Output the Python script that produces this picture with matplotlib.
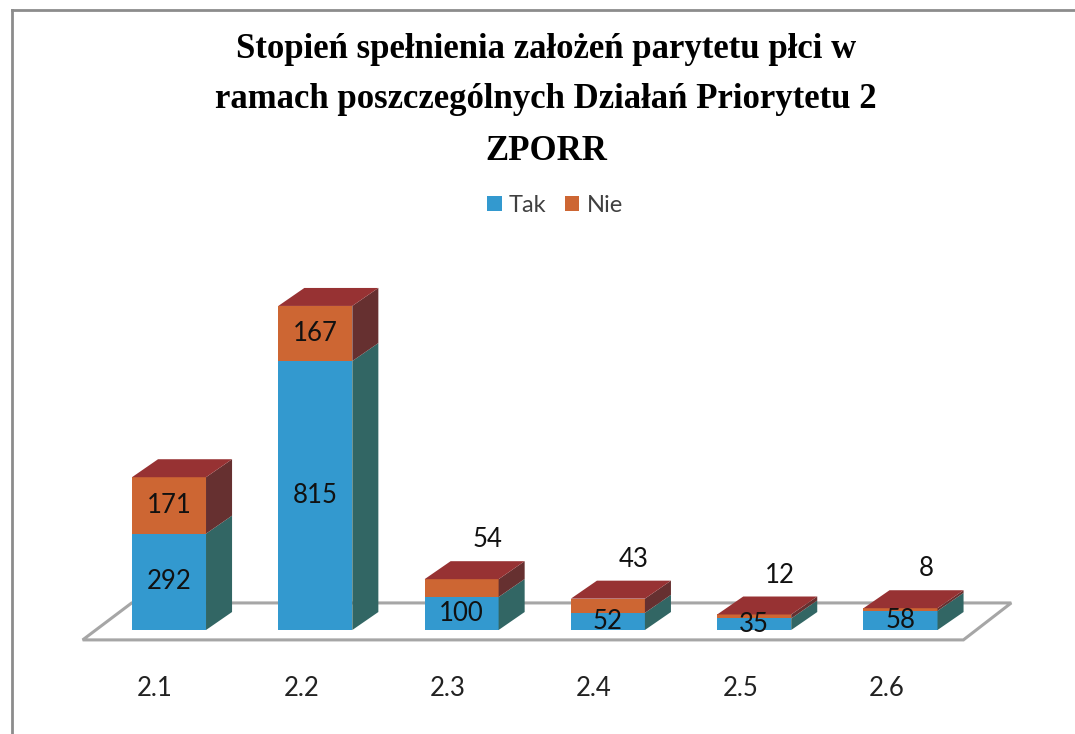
import matplotlib
matplotlib.use("Agg")
from matplotlib import pyplot as plt
from matplotlib.patches import Polygon, Rectangle
from matplotlib.lines import Line2D

# data
kategorie = ["2.1", "2.2", "2.3", "2.4", "2.5", "2.6"]
tak = [292, 815, 100, 52, 35, 58]
nie = [171, 167, 54, 43, 12, 8]

tytul = "Stopień spełnienia założeń parytetu płci w\nramach poszczególnych Działań Priorytetu 2\nZPORR"

# colours
c_tak = "#3399cf"
c_tak_bok = "#326664"
c_nie = "#cd6633"
c_nie_bok = "#663030"
c_gora = "#973233"

fig = plt.figure(figsize=(10.75, 7.34), dpi=100)
ax = fig.add_axes([0, 0, 1, 1])
# pixel mapping: bar centre 0 at px 169, step 146.3 px; y=0 at px 630, 0.33 px per unit
ax.set_xlim(-169 / 146.3, (1075 - 169) / 146.3)
ax.set_ylim((630 - 734) / 0.33, 630 / 0.33)
ax.axis("off")

w = 0.506      # bar width
dx = 0.178     # depth offset in x
dy = 54.5      # depth offset in y

# floor
floor = Polygon([(-0.59, -30), (5.43, -30), (5.757, 82), (-0.255, 82)],
                closed=True, facecolor="white", edgecolor="#a6a6a6", lw=2.2, zorder=1)
ax.add_patch(floor)

for i in range(len(kategorie)):
    xl = i - w / 2
    xr = i + w / 2
    t = tak[i]
    n = nie[i]
    top = t + n
    # front
    ax.add_patch(Rectangle((xl, 0), w, t, facecolor=c_tak, edgecolor="none", zorder=2))
    ax.add_patch(Rectangle((xl, t), w, n, facecolor=c_nie, edgecolor="none", zorder=2))
    # side
    ax.add_patch(Polygon([(xr, 0), (xr + dx, dy), (xr + dx, t + dy), (xr, t)],
                         facecolor=c_tak_bok, edgecolor="none", zorder=2))
    ax.add_patch(Polygon([(xr, t), (xr + dx, t + dy), (xr + dx, top + dy), (xr, top)],
                         facecolor=c_nie_bok, edgecolor="none", zorder=2))
    # top
    ax.add_patch(Polygon([(xl, top), (xr, top), (xr + dx, top + dy), (xl + dx, top + dy)],
                         facecolor=c_gora, edgecolor="none", zorder=2))

    ax.text(i, t / 2, str(t), ha="center", va="center", fontsize=18.5,
            family="Lato", color="#111111", zorder=3)
    if n >= 100:
        ax.text(i, t + n / 2, str(n), ha="center", va="center", fontsize=18.5,
                family="Lato", color="#111111", zorder=3)
    else:
        ax.text(i + dx, top + dy + 65, str(n), ha="center", va="center", fontsize=18.5,
                family="Lato", color="#111111", zorder=3)

    ax.text(i - 0.095, -176, kategorie[i], ha="center", va="center", fontsize=18.5,
            family="Lato", color="#222222")

# title
fig.text(546 / 1075, 1 - 100 / 734, tytul, ha="center", va="center", fontsize=25,
         family="Liberation Serif", weight="bold", linespacing=1.72)

# legend
h1 = Rectangle((0, 0), 1, 1, facecolor=c_tak)
h2 = Rectangle((0, 0), 1, 1, facecolor=c_nie)
leg = fig.legend([h1, h2], ["Tak", "Nie"], loc="center", bbox_to_anchor=(555 / 1075, 1 - 205 / 734),
                 ncol=2, frameon=False, handlelength=0.6, handleheight=0.6,
                 handletextpad=0.3, columnspacing=0.8, prop={"family": "Lato", "size": 17})
for txt in leg.get_texts():
    txt.set_color("#404040")

# outer frame (top and left)
fig.add_artist(Line2D([12 / 1075, 1], [1 - 10 / 734, 1 - 10 / 734], color="#8c8c8c", lw=2))
fig.add_artist(Line2D([12 / 1075, 12 / 1075], [0, 1 - 10 / 734], color="#8c8c8c", lw=2))

fig.savefig("out.png", dpi=100)
